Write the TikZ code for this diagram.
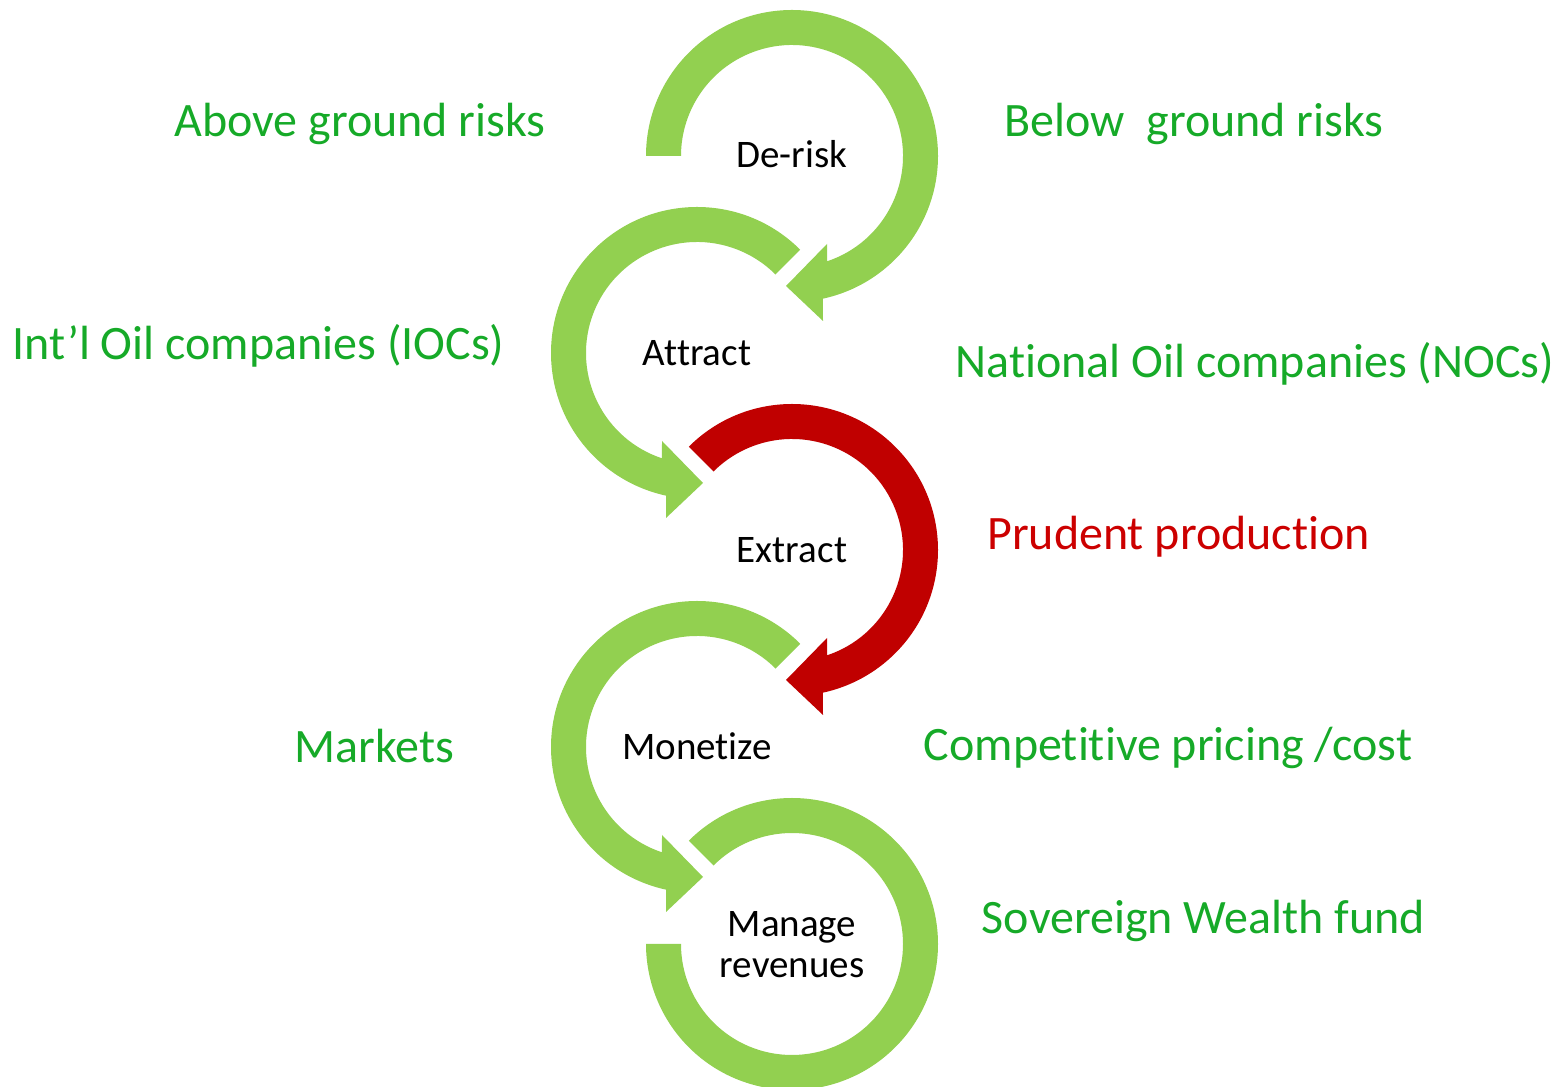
\documentclass[tikz,border=0pt]{standalone}
\usepackage{fontspec}
\setmainfont{Carlito}[Ligatures=NoCommon]
\usetikzlibrary{calc}
\definecolor{arcgreen}{HTML}{92D050}
\definecolor{arcred}{HTML}{C00000}
\definecolor{labgreen}{HTML}{16AA28}
\definecolor{labred}{HTML}{CC0000}
\tikzset{
  lab/.style={anchor=base, inner sep=0pt, text=labgreen, font=\fontsize{24}{28}\selectfont},
  labr/.style={lab, text=labred},
  stage/.style={anchor=base, inner sep=0pt, text=black, font=\fontsize{19.5}{20.5}\selectfont, align=center},
}
\begin{document}
\begin{tikzpicture}[x=0.5pt,y=0.5pt]
\useasboundingbox (0,0) rectangle (1559,1087);
% circle centres (y = 1087 - image y)
\coordinate (c1) at (792,931);
\coordinate (c2) at (697,734);
\coordinate (c3) at (792,537);
\coordinate (c4) at (697,340);
\coordinate (c5) at (792,143);
% clockwise arrow ending at the bottom (pointing left)
\fill[arcgreen] (c1) ++(180:146) arc[start angle=180,end angle=-77.8,radius=146]
  -- ($(c1)+(31,-165)$) -- ($(c1)+(-6,-130)$) -- ($(c1)+(35,-88)$)
  -- ($(c1)+(-71.6:111)$) arc[start angle=-71.6,end angle=180,radius=111] -- cycle;
% counter-clockwise arrow ending at the bottom (pointing right)
\fill[arcgreen] (c2) ++(45:146) arc[start angle=45,end angle=257.8,radius=146]
  -- ($(c2)+(-31,-165)$) -- ($(c2)+(6,-130)$) -- ($(c2)+(-35,-88)$)
  -- ($(c2)+(251.6:111)$) arc[start angle=251.6,end angle=45,radius=111] -- cycle;
\fill[arcred] (c3) ++(135:146) arc[start angle=135,end angle=-77.8,radius=146]
  -- ($(c3)+(31,-165)$) -- ($(c3)+(-6,-130)$) -- ($(c3)+(35,-88)$)
  -- ($(c3)+(-71.6:111)$) arc[start angle=-71.6,end angle=135,radius=111] -- cycle;
\fill[arcgreen] (c4) ++(45:146) arc[start angle=45,end angle=257.8,radius=146]
  -- ($(c4)+(-31,-165)$) -- ($(c4)+(6,-130)$) -- ($(c4)+(-35,-88)$)
  -- ($(c4)+(251.6:111)$) arc[start angle=251.6,end angle=45,radius=111] -- cycle;
\fill[arcgreen] (c5) ++(135:146) arc[start angle=135,end angle=-180,radius=146]
  -- ($(c5)+(-180:111)$) arc[start angle=-180,end angle=135,radius=111] -- cycle;
% stage texts
\node[stage] (derisk) at (792,919) {De-risk};
\node[stage] (attract) at (697,721) {Attract};
\node[stage] (extract) at (792,524) {Extract};
\node[stage] (monetize) at (697,327) {Monetize};
\node[stage, anchor=center] (manage) at (792,142) {Manage\\revenues};
% side labels
\node[lab] (above) at (360,950) {Above ground risks};
\node[lab] (below) at (1194,950) {Below\ \ ground risks};
\node[lab] (iocs) at (258.5,727) {Int’l Oil companies (IOCs)};
\node[lab] (nocs) at (1255,709.5) {National Oil companies (NOCs)};
\node[labr] (prudent) at (1178.5,537.5) {Prudent production};
\node[lab] (markets) at (374.5,324) {Markets};
\node[lab] (pricing) at (1168,326) {Competitive pricing /cost};
\node[lab] (swf) at (1203.5,153) {Sovereign Wealth fund};
\end{tikzpicture}
\end{document}
